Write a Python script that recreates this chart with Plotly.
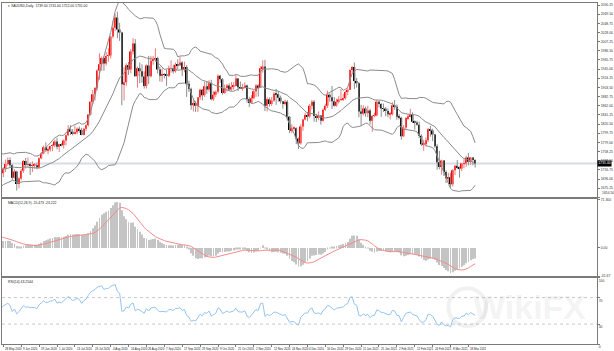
import numpy as np
import pandas as pd
import plotly.graph_objects as go

symbol = "XAUUSD,Daily"
n_warmup = 32  # bars before 18 May 2020 (used only to warm up indicators)

opens = [
    1577,1591,1613,1620,1663,1647,1646,1683,1712,1727,1716,1717,1683,1695,1686,1714,1730,1729,1713,1706,1713,1686,1700,1702,1705,1685,1725,1702,1698,1702,1715,1730,
    1743,1733,1745,1747,1725,1735,1729,1710,1709,1720,
    1730,1739,1727,1699,1713,1685,1697,1715,1737,1728,
    1730,1726,1727,1727,1722,1743,1754,1768,1761,1763,
    1771,1772,1781,1769,1775,1773,1783,1795,1809,1803,
    1798,1802,1810,1807,1796,1810,1818,1842,1871,1888,
    1902,1942,1956,1970,1958,1975,1976,2019,2039,2062,
    2035,2028,1911,1915,1954,1944,1985,2003,1929,1947,
    1940,1928,1907,1953,1929,1964,1968,1970,1944,1930,
    1933,1932,1930,1946,1947,1940,1955,1954,1960,1944,
    1950,1912,1900,1863,1868,1862,1881,1898,1886,1906,
    1899,1913,1877,1887,1894,1930,1922,1891,1902,1908,
    1899,1905,1907,1924,1904,1902,1902,1908,1877,1868,
    1879,1895,1908,1904,1947,1951,1862,1877,1866,1874,
    1889,1888,1880,1872,1866,1871,1837,1807,1811,1811,
    1788,1777,1815,1831,1841,1838,1862,1871,1839,1836,
    1840,1828,1853,1862,1887,1881,1872,1862,1871,1876,
    1877,1879,1893,1898,1943,1950,1918,1913,1849,1844,
    1856,1845,1851,1828,1839,1840,1871,1866,1856,1855,
    1850,1843,1843,1863,1860,1837,1835,1793,1813,1834,
    1838,1842,1826,1824,1819,1794,1775,1775,1784,1809,
    1806,1797,1770,1734,1723,1738,1712,1698,1700,1684,
    1716,1726,1722,1720,1731,1731,1745,1735,1745,1739,
]
highs = [
    1605,1625,1626,1664,1671,1658,1690,1714,1747,1729,1735,1722,1700,1699,1716,1739,1738,1729,1719,1718,1722,1706,1716,1712,1710,1726,1727,1714,1711,1717,1734,1745,
    1765,1749,1752,1749,1737,1736,1735,1718,1723,1740,
    1745,1745,1730,1718,1715,1700,1719,1739,1744,1745,
    1733,1736,1732,1733,1745,1757,1772,1779,1768,1771,
    1775,1785,1789,1776,1777,1786,1797,1818,1818,1809,
    1817,1813,1815,1812,1812,1820,1843,1872,1898,1905,
    1945,1981,1974,1974,1984,1992,2020,2055,2070,2075,
    2050,2030,1949,1958,1961,1990,2015,2013,1951,1960,
    1956,1940,1956,1975,1975,1975,1992,1973,1951,1947,
    1936,1944,1953,1965,1955,1960,1967,1973,1963,1962,
    1954,1919,1903,1877,1873,1882,1901,1900,1917,1917,
    1920,1921,1895,1897,1933,1932,1925,1910,1911,1913,
    1916,1915,1931,1925,1917,1912,1915,1910,1882,1886,
    1898,1911,1911,1951,1965,1966,1881,1881,1882,1893,
    1900,1895,1885,1873,1876,1875,1839,1820,1815,1813,
    1790,1820,1832,1846,1848,1866,1875,1875,1844,1849,
    1840,1856,1867,1896,1890,1907,1882,1878,1884,1900,
    1889,1896,1902,1945,1952,1960,1925,1916,1864,1863,
    1860,1862,1855,1841,1846,1875,1873,1868,1867,1859,
    1856,1848,1870,1875,1865,1843,1837,1818,1836,1843,
    1855,1847,1829,1828,1826,1797,1785,1790,1812,1816,
    1810,1798,1775,1760,1740,1739,1716,1710,1710,1719,
    1727,1739,1725,1732,1741,1749,1755,1746,1746,1741,
]
lows = [
    1575,1587,1605,1611,1641,1640,1645,1680,1708,1705,1710,1673,1681,1660,1685,1704,1720,1702,1691,1701,1679,1680,1693,1700,1683,1684,1698,1694,1697,1700,1712,1725,
    1726,1727,1740,1716,1718,1724,1698,1693,1700,1712,
    1726,1722,1694,1697,1670,1675,1693,1710,1720,1723,
    1705,1712,1719,1718,1722,1741,1752,1757,1752,1758,
    1759,1768,1763,1757,1770,1765,1772,1793,1796,1795,
    1797,1797,1801,1795,1795,1805,1815,1840,1866,1874,
    1897,1921,1941,1941,1953,1962,1969,2015,2031,2015,
    2009,1863,1874,1907,1932,1935,1978,1929,1903,1913,
    1914,1901,1901,1911,1926,1955,1961,1935,1917,1916,
    1924,1907,1927,1937,1935,1937,1944,1952,1929,1938,
    1882,1893,1853,1849,1848,1848,1875,1874,1882,1889,
    1894,1874,1873,1882,1890,1914,1887,1889,1894,1895,
    1895,1898,1906,1895,1900,1896,1901,1869,1859,1866,
    1877,1882,1883,1904,1937,1850,1849,1860,1862,1871,
    1864,1871,1867,1855,1863,1829,1800,1800,1805,1775,
    1764,1774,1805,1829,1827,1834,1854,1826,1825,1829,
    1819,1826,1850,1857,1871,1855,1860,1860,1867,1873,
    1873,1876,1886,1898,1935,1900,1903,1836,1817,1840,
    1837,1836,1820,1803,1836,1838,1858,1837,1848,1838,
    1836,1831,1840,1853,1830,1831,1785,1791,1807,1830,
    1836,1823,1808,1817,1789,1771,1760,1770,1780,1792,
    1782,1766,1717,1718,1706,1703,1687,1687,1676,1679,
    1705,1718,1699,1714,1720,1724,1727,1728,1727,1722,
]
closes = [
    1591,1613,1620,1663,1647,1646,1683,1712,1727,1716,1717,1683,1695,1686,1714,1730,1729,1713,1706,1713,1686,1700,1702,1705,1685,1725,1702,1698,1702,1715,1730,1743,
    1733,1745,1747,1725,1735,1729,1710,1709,1720,1730,
    1739,1727,1699,1713,1685,1697,1715,1737,1728,1730,
    1726,1727,1727,1722,1743,1754,1768,1761,1763,1771,
    1772,1781,1769,1775,1773,1783,1795,1809,1803,1798,
    1802,1810,1807,1796,1810,1818,1842,1871,1888,1902,
    1942,1956,1970,1958,1975,1976,2019,2039,2062,2035,
    2028,1911,1915,1954,1944,1985,2003,1929,1947,1940,
    1928,1907,1953,1929,1964,1968,1970,1944,1930,1933,
    1932,1930,1946,1947,1940,1955,1954,1960,1944,1950,
    1912,1900,1863,1868,1862,1881,1898,1886,1906,1899,
    1913,1877,1887,1894,1930,1922,1891,1902,1908,1899,
    1905,1907,1924,1904,1902,1902,1908,1877,1868,1879,
    1895,1908,1904,1947,1951,1862,1877,1866,1874,1889,
    1888,1880,1872,1866,1871,1837,1807,1811,1811,1788,
    1777,1815,1831,1841,1838,1862,1871,1839,1836,1840,
    1828,1853,1862,1887,1881,1872,1862,1871,1876,1877,
    1879,1893,1898,1943,1950,1918,1913,1849,1844,1856,
    1845,1851,1828,1839,1840,1871,1866,1856,1855,1850,
    1843,1843,1863,1860,1837,1835,1793,1813,1834,1838,
    1842,1826,1824,1819,1794,1775,1775,1784,1809,1806,
    1797,1770,1734,1723,1738,1712,1698,1700,1684,1716,
    1726,1722,1720,1731,1731,1745,1735,1745,1739,1731,
]

holidays = ["2020-04-10", "2020-12-25", "2021-01-01"]
date_labels = ["28 May 2020", "9 Jun 2020", "19 Jun 2020", "1 Jul 2020", "13 Jul 2020",
               "23 Jul 2020", "4 Aug 2020", "14 Aug 2020", "26 Aug 2020", "7 Sep 2020",
               "17 Sep 2020", "29 Sep 2020", "9 Oct 2020", "21 Oct 2020", "2 Nov 2020",
               "12 Nov 2020", "24 Nov 2020", "4 Dec 2020", "16 Dec 2020", "29 Dec 2020",
               "11 Jan 2021", "21 Jan 2021", "2 Feb 2021", "12 Feb 2021", "24 Feb 2021",
               "8 Mar 2021", "18 Mar 2021"]
price_ticks = [2090.25, 2069.50, 2048.75, 2028.00, 2007.25, 1986.50, 1965.75, 1945.00,
               1924.25, 1903.50, 1882.75, 1862.00, 1841.25, 1820.50, 1799.75, 1779.00,
               1758.25, 1737.50, 1716.75, 1696.00, 1675.25, 1654.50]
macd_ticks = [71.30, 0.0, -41.67]
macd_tick_text = ["71.300", "0.00", "-41.67"]
rsi_ticks = [100, 70, 30, 0]
rsi_levels = [70, 30]

price_range = [1654.3, 2094.8]
macd_range = [-41.67, 71.30]
x_range = [7.4, 273.5]

# ---------------------------------------------------------------
n = len(closes)
dates = pd.bdate_range("2020-04-01", "2021-03-23")
dates = dates[~dates.isin(pd.to_datetime(holidays))][:n]
date_str = [f"{d.day} {d.strftime('%b %Y')}" for d in dates]
xi = np.arange(n) - n_warmup

o = np.array(opens, float); h = np.array(highs, float)
l = np.array(lows, float); c = np.array(closes, float)
cs = pd.Series(c)

bb_mid = cs.rolling(20).mean()
bb_sd = cs.rolling(20).std(ddof=0)
bb_up = bb_mid + 2 * bb_sd
bb_lo = bb_mid - 2 * bb_sd

ema12 = cs.ewm(span=12, adjust=False).mean()
ema26 = cs.ewm(span=26, adjust=False).mean()
macd = ema12 - ema26
signal = macd.rolling(9).mean()

delta = cs.diff()
gain = delta.clip(lower=0).ewm(alpha=1/14, adjust=False).mean()
loss = (-delta.clip(upper=0)).ewm(alpha=1/14, adjust=False).mean()
rsi = 100 - 100 / (1 + gain / loss)

up = c >= o
FONT = "Liberation Sans"

def wick_xy(mask):
    xs, ys = [], []
    for i in np.where(mask)[0]:
        xs += [xi[i], xi[i], None]
        ys += [l[i], h[i], None]
    return xs, ys

fig = go.Figure()
for mask, col in [(up, "#f07a7a"), (~up, "#8c8c8c")]:
    wx, wy = wick_xy(mask)
    fig.add_trace(go.Scatter(x=wx, y=wy, mode="lines", line=dict(color=col, width=1),
                             xaxis="x", yaxis="y", hoverinfo="skip"))

body_base = np.minimum(o, c)
body_h = np.maximum(np.abs(c - o), 0.8)
fig.add_trace(go.Bar(x=xi, y=body_h, base=body_base, width=0.72,
                     marker=dict(color=np.where(up, "#ff0000", "#000000"), line=dict(width=0)),
                     xaxis="x", yaxis="y"))
for s in (bb_up, bb_mid, bb_lo):
    fig.add_trace(go.Scatter(x=xi, y=s, mode="lines", line=dict(color="#8a8a8a", width=1),
                             xaxis="x", yaxis="y"))

fig.add_trace(go.Bar(x=xi, y=macd, width=0.38, marker=dict(color="#c4c4c4", line=dict(width=0)),
                     xaxis="x2", yaxis="y2"))
fig.add_trace(go.Scatter(x=xi, y=signal, mode="lines", line=dict(color="#f28b8b", width=1),
                         xaxis="x2", yaxis="y2"))
fig.add_trace(go.Scatter(x=xi, y=rsi, mode="lines", line=dict(color="#94c4f2", width=1),
                         xaxis="x3", yaxis="y3"))

# geometry (plot area y from 2 to 344 px)
H, TOP, BOT = 351, 2, 7
ph = H - TOP - BOT
def frac(ypx):
    return (H - BOT - ypx) / ph
def fracx(xpx):
    return (xpx - 1) / 601

axcol = "#7a7a7a"
common_x = dict(range=x_range, showgrid=False, zeroline=False, showline=True, mirror=True,
                linecolor=axcol, linewidth=1, showticklabels=False)
label_pos = [xi[date_str.index(s)] for s in date_labels if s in date_str]
label_txt = [s for s in date_labels if s in date_str]

tick_font = dict(family=FONT, size=3.4, color="#333333")
common_y = dict(side="right", showgrid=False, zeroline=False, showline=True, mirror=True,
                linecolor=axcol, linewidth=1, ticks="outside", ticklen=2, tickcolor=axcol,
                tickfont=tick_font, fixedrange=True)

# the lowest price label is drawn as an annotation just above its tick
price_text = [f"{v:.2f}" for v in price_ticks]
price_text_axis = price_text[:-1] + [""]

fig.update_layout(
    width=614, height=351, margin=dict(l=1, r=12, t=TOP, b=BOT),
    paper_bgcolor="white", plot_bgcolor="white", showlegend=False, barmode="overlay",
    xaxis=dict(common_x, anchor="y", domain=[0, 1]),
    xaxis2=dict(common_x, anchor="y2", matches="x"),
    xaxis3=dict(common_x, anchor="y3", matches="x", ticks="outside", ticklen=2,
                tickcolor=axcol, tickvals=label_pos),
    yaxis=dict(common_y, domain=[frac(197), 1], range=price_range,
               tickvals=price_ticks, ticktext=price_text_axis),
    yaxis2=dict(common_y, domain=[frac(276), frac(199)], range=macd_range,
                tickvals=macd_ticks, ticktext=macd_tick_text),
    yaxis3=dict(common_y, domain=[0, frac(277.5)], range=[0, 100],
                tickvals=rsi_ticks, ticktext=[str(v) for v in rsi_ticks],
                ticklabelposition="outside bottom"),
)

shapes = [dict(type="line", xref="paper", x0=0, x1=1, yref="y", y0=c[-1], y1=c[-1],
               line=dict(color="#d6dde5", width=2), layer="below")]
for lv in rsi_levels:
    shapes.append(dict(type="line", xref="paper", x0=0, x1=1, yref="y3", y0=lv, y1=lv,
                       line=dict(color="#c8c8c8", width=1, dash="dot"), layer="below"))
shapes.append(dict(type="circle", xref="paper", yref="paper",
                   x0=fracx(452), x1=fracx(490), y0=frac(326), y1=frac(288),
                   line=dict(color="rgba(170,170,170,0.16)", width=4), layer="below"))
fig.update_layout(shapes=shapes)

small = dict(family=FONT, size=3.4, color="#222222")
ann = [
    dict(xref="paper", yref="paper", x=0.006, y=frac(5), xanchor="left", yanchor="middle",
         text=f"▾ {symbol}  {o[-1]:.2f} {h[-1]:.2f} {l[-1]:.2f} {c[-1]:.2f}",
         showarrow=False, font=small),
    dict(xref="paper", yref="paper", x=0.006, y=frac(203), xanchor="left", yanchor="middle",
         text=f"MACD(12,26,9) {macd.iloc[-1]:.3f} {signal.iloc[-1]:.3f}",
         showarrow=False, font=small),
    dict(xref="paper", yref="paper", x=0.006, y=frac(281.5), xanchor="left", yanchor="middle",
         text=f"RSI(14) {rsi.iloc[-1]:.4f}", showarrow=False, font=small),
    dict(xref="paper", yref="y", x=1, y=c[-1], xanchor="left", yanchor="middle",
         text=f"{c[-1]:.2f}", showarrow=False, bgcolor="#000000", borderpad=0.4,
         font=dict(family=FONT, size=3.4, color="#ffffff")),
    dict(xref="paper", yref="y", x=1, y=price_ticks[-1], xanchor="left", yanchor="bottom",
         xshift=3, yshift=0.3, text=price_text[-1], showarrow=False, font=tick_font),
    dict(xref="paper", yref="paper", x=0.985, y=frac(307), xanchor="right", yanchor="middle",
         text="<b>WikiFX</b>", showarrow=False,
         font=dict(family=FONT, size=34, color="rgba(170,170,170,0.15)")),
]
for xp, t in zip(label_pos, label_txt):
    ann.append(dict(xref="x3", yref="paper", x=xp, y=0, xanchor="left", yanchor="top",
                    yshift=-0.5, text=t, showarrow=False,
                    font=dict(family=FONT, size=2.9, color="#222222")))
fig.update_layout(annotations=ann)

fig.write_html("out.html")
